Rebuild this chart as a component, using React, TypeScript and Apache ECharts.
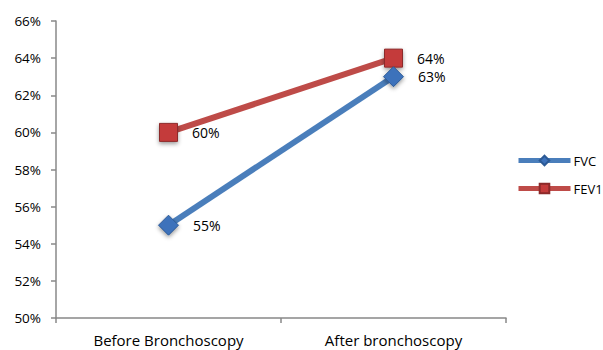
import React, { useEffect, useRef } from "react";
import * as echarts from "echarts";

const categories = ["Before Bronchoscopy", "After bronchoscopy"];
const fvc = [55, 63];
const fev1 = [60, 64];

export default function App() {
  const ref = useRef<HTMLDivElement>(null);
  useEffect(() => {
    document.body.style.margin = "0";
    document.body.style.overflow = "hidden";
    const chart = echarts.init(ref.current!, null, { renderer: "svg" });
    const font = "'Open Sans', 'Noto Sans', sans-serif";
    chart.setOption({
      animation: false,
      textStyle: { fontFamily: font },
      grid: { left: 56, right: 97, top: 21, bottom: 32, containLabel: false },
      legend: {
        orient: "vertical",
        left: 511,
        top: 149,
        itemWidth: 52,
        itemHeight: 12,
        itemGap: 15,
        lineStyle: { width: 5 },
        textStyle: { fontSize: 13, color: "#000", fontFamily: font, padding: [0, 0, 0, -2] },
        data: ["FVC", "FEV1"],
      },
      xAxis: {
        type: "category",
        data: categories,
        boundaryGap: true,
        axisLine: { lineStyle: { color: "#888", width: 1.5 } },
        axisTick: { show: true, length: 5, lineStyle: { color: "#888", width: 1.5 } },
        axisLabel: { fontSize: 15, color: "#000", margin: 14, fontFamily: font },
      },
      yAxis: {
        type: "value",
        min: 50,
        max: 66,
        interval: 2,
        axisLine: { show: true, lineStyle: { color: "#888", width: 1.5 } },
        axisTick: { show: true, length: 5, lineStyle: { color: "#888", width: 1.5 } },
        splitLine: { show: false },
        axisLabel: {
          fontSize: 13.5,
          color: "#000",
          margin: 15,
          fontFamily: font,
          formatter: (v: number) => v + "%",
        },
      },
      series: [
        {
          name: "FVC",
          type: "line",
          data: fvc,
          symbol: "diamond",
          symbolSize: 20,
          lineStyle: { color: "#4a7ebb", width: 6 },
          itemStyle: {
            color: "#3d72bb",
            borderColor: "#2c5a96",
            borderWidth: 1,
            shadowBlur: 4,
            shadowColor: "rgba(0,0,0,0.4)",
            shadowOffsetY: 2,
          },
          label: {
            show: true,
            position: "right",
            distance: 14,
            fontSize: 14,
            color: "#000",
            fontFamily: font,
            formatter: (p: any) => p.value + "%",
          },
          z: 3,
        },
        {
          name: "FEV1",
          type: "line",
          data: fev1,
          symbol: "rect",
          symbolSize: 18,
          lineStyle: { color: "#be4b48", width: 6 },
          itemStyle: {
            color: "#c43b3b",
            borderColor: "#8c2a2a",
            borderWidth: 1,
            shadowBlur: 4,
            shadowColor: "rgba(0,0,0,0.4)",
            shadowOffsetY: 2,
          },
          label: {
            show: true,
            position: "right",
            distance: 14,
            fontSize: 14,
            color: "#000",
            fontFamily: font,
            formatter: (p: any) => p.value + "%",
          },
          z: 2,
        },
      ],
    });
    return () => chart.dispose();
  }, []);
  return <div ref={ref} style={{ position: "absolute", left: 0, top: 0, width: 603, height: 350 }} />;
}
